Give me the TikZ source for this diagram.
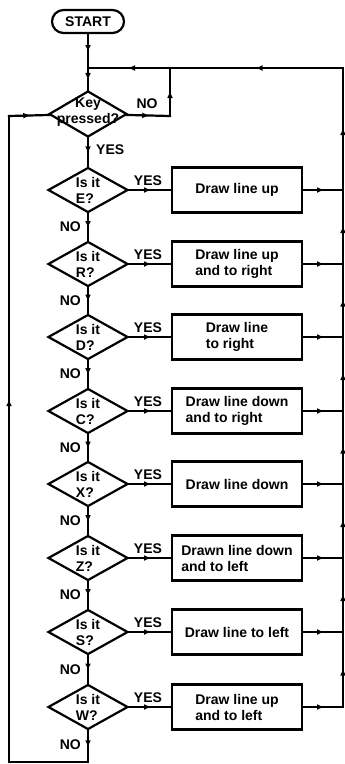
\documentclass[tikz,border=0pt]{standalone}
\usepackage{fontspec}
\setmainfont{Liberation Sans}
\usetikzlibrary{shapes.geometric,decorations.markings,arrows.meta}

\tikzset{
  every node/.style={font=\bfseries\fontsize{14}{16}\selectfont},
  ln/.style={line width=2.2pt},
  term/.style={draw, ln, rectangle, rounded corners=11.5pt, minimum width=72pt, minimum height=23pt, inner sep=0pt},
  dec/.style={draw, ln, diamond, minimum width=80pt, minimum height=45pt, inner sep=0pt},
  act/.style={draw, ln, rectangle, minimum width=130pt, minimum height=45pt, inner sep=0pt, align=left},
  qtext/.style={align=left, inner sep=0pt},
  lab/.style={inner sep=0pt},
  conn/.style={ln, line cap=rect},
  flow/.style={conn, postaction={decorate},
    decoration={markings, mark=at position #1 with {\arrow{Triangle[length=6pt,width=5pt]}}}},
  flow/.default=0.5,
}

\begin{document}
\begin{tikzpicture}[x=1pt, y=-1pt]
\useasboundingbox (0,0) rectangle (345,764);

% start and key test
\node[term] (start) at (88,21.5) {START};
\node[dec, minimum width=78pt, minimum height=46pt] (key) at (88,114) {};
\node[qtext, align=center] (keyq) at (88,112) {Key\\pressed?};

% key tests
\node[dec] (dE) at (88,190) {};  \node[qtext] (tE) at (dE.center) {Is it\\E?};
\node[dec] (dR) at (88,264) {};  \node[qtext] (tR) at (dR.center) {Is it\\R?};
\node[dec] (dD) at (88,337) {};  \node[qtext] (tD) at (dD.center) {Is it\\D?};
\node[dec] (dC) at (88,411) {};  \node[qtext] (tC) at (dC.center) {Is it\\C?};
\node[dec] (dX) at (88,484) {};  \node[qtext] (tX) at (dX.center) {Is it\\X?};
\node[dec] (dZ) at (88,558) {};  \node[qtext] (tZ) at (dZ.center) {Is it\\Z?};
\node[dec] (dS) at (88,632) {};  \node[qtext] (tS) at (dS.center) {Is it\\S?};
\node[dec] (dW) at (88,707) {};  \node[qtext] (tW) at (dW.center) {Is it\\W?};

% actions
\node[act] (bE) at (237,190) {Draw line up};
\node[act] (bR) at (237,264) {Draw line up\\and to right};
\node[act] (bD) at (237,337) {Draw line\\to right};
\node[act] (bC) at (237,411) {Draw line down\\and to right};
\node[act] (bX) at (237,484) {Draw line down};
\node[act] (bZ) at (237,558) {Drawn line down\\and to left};
\node[act] (bS) at (237,632) {Draw line to left};
\node[act] (bW) at (237,707) {Draw line up\\and to left};

% junction points
\coordinate (tl) at (88,68);
\coordinate (nj) at (170,68);
\coordinate (nc) at (170,116);
\coordinate (tr) at (343,68);
\coordinate (lt) at (9,116);
\coordinate (lb) at (9,762);
\coordinate (bw) at (88,762);
\foreach \r/\y in {E/190,R/264,D/337,C/411,X/484,Z/558,S/632,W/707}
  \coordinate (r\r) at (343,\y);

% main entry
\draw[flow] (start) -- (tl);
\draw[flow] (tl) -- (key);

% no key pressed: loop back
\draw[flow] (key) -- (nc);
\draw[flow] (nc) -- (nj);
\draw[flow] (nj) -- (tl);
\draw[flow] (tr) -- (nj);

% chain of tests
\draw[flow] (key) -- (dE);
\draw[flow] (dE) -- (dR);
\draw[flow] (dR) -- (dD);
\draw[flow] (dD) -- (dC);
\draw[flow] (dC) -- (dX);
\draw[flow] (dX) -- (dZ);
\draw[flow] (dZ) -- (dS);
\draw[flow] (dS) -- (dW);

% yes branches and return rail
\foreach \r in {E,R,D,C,X,Z,S,W} {
  \draw[flow] (d\r) -- (b\r);
  \draw[flow] (b\r) -- (r\r);
}
\draw[flow] (rW) -- (rS);
\draw[flow] (rS) -- (rZ);
\draw[flow] (rZ) -- (rX);
\draw[flow] (rX) -- (rC);
\draw[flow] (rC) -- (rD);
\draw[flow] (rD) -- (rR);
\draw[flow] (rR) -- (rE);
\draw[flow] (rE) -- (tr);

% unknown key: back to the key test
\draw[flow] (dW) -- (bw);
\draw[conn] (bw) -- (lb);
\draw[flow=0.56] (lb) -- (lt);
\draw[flow] (lt) -- (key);

% labels
\node[lab, anchor=base] (nkey) at (147,108) {NO};
\node[lab, anchor=base west] (ykey) at (96,154) {YES};
\foreach \r/\y in {E/190,R/264,D/337,C/411,X/484,Z/558,S/632,W/707}
  \node[lab, anchor=base] (y\r) at (148,\y-5) {YES};
\foreach \n/\y in {E/227,R/300.5,D/374,C/447.5,X/521,Z/595,S/669.5,W/745}
  \node[lab, anchor=east] (n\n) at (81,\y) {NO};

\end{tikzpicture}
\end{document}
